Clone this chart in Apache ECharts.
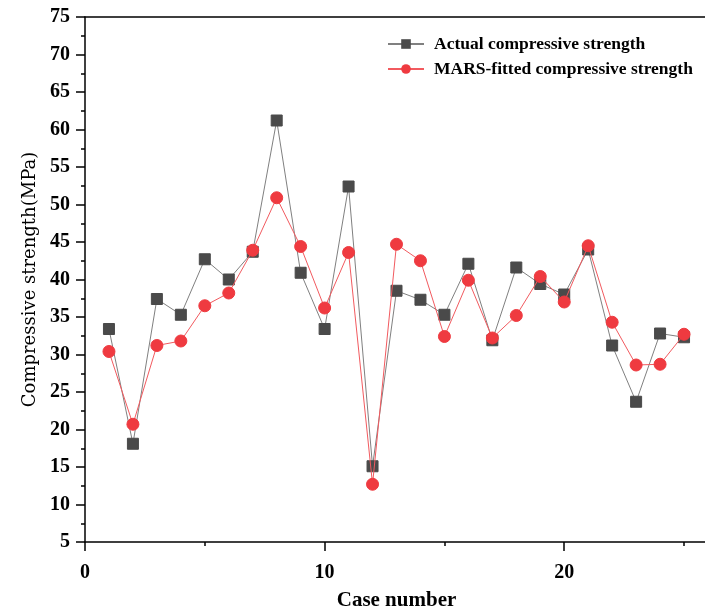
<!DOCTYPE html>
<html>
<head>
<meta charset="utf-8">
<script src="https://cdn.jsdelivr.net/npm/echarts@6/dist/echarts.min.js"></script>
<style>html,body{margin:0;padding:0;background:#fff;}#chart{width:705px;height:611px;}</style>
</head>
<body>
<div id="chart"></div>
<script>
const caseNumbers = [1,2,3,4,5,6,7,8,9,10,11,12,13,14,15,16,17,18,19,20,21,22,23,24,25];
const actualStrength = [33.4,18.1,37.4,35.3,42.7,40.0,43.7,61.2,40.9,33.4,52.4,15.1,38.5,37.3,35.3,42.1,31.9,41.6,39.4,38.0,44.0,31.2,23.7,32.8,32.3];
const marsStrength = [30.4,20.7,31.2,31.8,36.5,38.2,43.9,50.9,44.4,36.2,43.6,12.7,44.7,42.5,32.4,39.9,32.2,35.2,40.4,37.0,44.5,34.3,28.6,28.7,32.7];
const seriesNames = ['Actual compressive strength','MARS-fitted compressive strength'];
const xAxisTitle = 'Case number';
const yAxisTitle = 'Compressive strength(MPa)';

const chart = echarts.init(document.getElementById('chart'), null, {renderer:'canvas'});
const tickFont = {fontFamily:'Liberation Serif', fontWeight:'bold', fontSize:20, color:'#000'};
chart.setOption({
  animation:false,
  backgroundColor:'#fff',
  grid:{left:85, top:17, bottom:69, right:-3, outerBoundsMode:'none', containLabel:false},
  legend:{
    orient:'vertical', left:382, top:30, itemWidth:36, itemHeight:12, itemGap:7,
    textStyle:{fontFamily:'Liberation Serif', fontWeight:'bold', fontSize:17.5, color:'#000', padding:[0,0,0,5]},
    data:seriesNames
  },
  xAxis:[{
    type:'value', min:0, max:26, interval:10,
    name:xAxisTitle, nameLocation:'middle', nameGap:48,
    nameTextStyle:{fontFamily:'Liberation Serif', fontWeight:'bold', fontSize:21, color:'#000'},
    axisLine:{show:true, onZero:false, lineStyle:{color:'#000', width:1.5}},
    axisTick:{show:true, inside:false, length:9, lineStyle:{color:'#000', width:1.5}},
    minorTick:{show:true, splitNumber:2, length:4, lineStyle:{color:'#000', width:1.5}},
    axisLabel:{...tickFont, margin:21, showMaxLabel:false},
    splitLine:{show:false}
  },{
    type:'value', position:'top', min:0, max:26,
    axisLine:{show:true, onZero:false, lineStyle:{color:'#000', width:1.5}},
    axisTick:{show:false}, axisLabel:{show:false}, splitLine:{show:false}
  }],
  yAxis:{
    type:'value', min:5, max:75, interval:5,
    name:yAxisTitle, nameLocation:'middle', nameGap:45,
    nameTextStyle:{fontFamily:'DejaVu Serif', fontSize:18, color:'#000'},
    axisLine:{show:true, onZero:false, lineStyle:{color:'#000', width:1.5}},
    axisTick:{show:true, inside:false, length:9, lineStyle:{color:'#000', width:1.5}},
    minorTick:{show:true, splitNumber:2, length:4, lineStyle:{color:'#000', width:1.5}},
    axisLabel:{...tickFont, margin:15},
    splitLine:{show:false}
  },
  series:[
    {
      name:seriesNames[0], type:'line',
      data:caseNumbers.map((c,i)=>[c, actualStrength[i]]),
      symbol:'rect', symbolSize:11,
      itemStyle:{color:'#4a4a4a', borderColor:'#4a4a4a'},
      lineStyle:{color:'#808080', width:1},
      z:2
    },
    {
      name:seriesNames[1], type:'line',
      data:caseNumbers.map((c,i)=>[c, marsStrength[i]]),
      symbol:'circle', symbolSize:12,
      itemStyle:{color:'#ef3a40', borderColor:'#ef3a40'},
      lineStyle:{color:'#f25a5f', width:1},
      z:3
    }
  ]
});
</script>
</body>
</html>
